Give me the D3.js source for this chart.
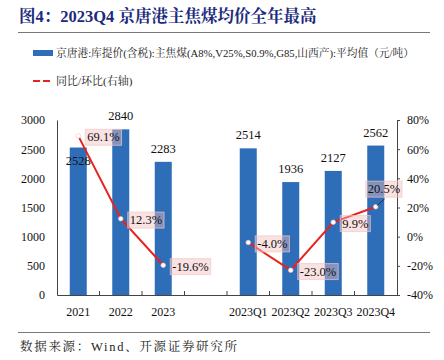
<!DOCTYPE html>
<html><head><meta charset="utf-8">
<script src="https://cdn.jsdelivr.net/npm/d3@7"></script>
<style>body{margin:0;background:#fff}svg{display:block}</style>
</head><body>
<script>
const categories = ["2021","2022","2023","","2023Q1","2023Q2","2023Q3","2023Q4"];
const priceValues = [2528, 2840, 2283, null, 2514, 1936, 2127, 2562];
const changeValues = [69.1, 12.3, -19.6, null, -4.0, -23.0, 9.9, 20.5];
const leftTicks = [0, 500, 1000, 1500, 2000, 2500, 3000];
const rightTicks = [-40, -20, 0, 20, 40, 60, 80];
const titleText = "图4：2023Q4 京唐港主焦煤均价全年最高";
const barLegend = "京唐港:库提价(含税):主焦煤(A8%,V25%,S0.9%,G85,山西产):平均值（元/吨）";
const lineLegend = "同比/环比(右轴)";
const sourceText = "数据来源：Wind、开源证券研究所";

const W = 444, H = 360;
const FONT = "'Liberation Serif','Times New Roman','Noto Serif CJK SC','Noto Sans CJK SC',serif";
const BLUE = "#2E6DB8", RED = "#E8231F";
const svg = d3.select("body").append("svg").attr("width", W).attr("height", H);

const keys = categories.map((c, i) => i);
const x = d3.scaleBand().domain(keys).range([57, 397]).padding(0);
const yL = d3.scaleLinear().domain([0, 3000]).range([295, 120]);
const yR = d3.scaleLinear().domain([-40, 80]).range([295, 120]);

// title
svg.append("text").attr("x", 19).attr("y", 22).text(titleText)
  .attr("font-family", FONT).attr("font-weight", "bold").attr("font-size", 16.5).attr("fill", "#1C2A7C");
svg.append("line").attr("x1", 18).attr("x2", 430).attr("y1", 32.5).attr("y2", 32.5).attr("stroke", "#777").attr("stroke-width", 1.2);

// legend
svg.append("rect").attr("x", 33).attr("y", 50).attr("width", 20).attr("height", 6).attr("fill", BLUE);
svg.append("text").attr("x", 56).attr("y", 57).text(barLegend)
  .attr("font-family", FONT).attr("font-size", 11).attr("fill", "#222")
  .attr("textLength", 358).attr("lengthAdjust", "spacingAndGlyphs");
svg.append("line").attr("x1", 33).attr("x2", 53).attr("y1", 81).attr("y2", 81)
  .attr("stroke", RED).attr("stroke-width", 2).attr("stroke-dasharray", "7,3");
svg.append("text").attr("x", 56).attr("y", 85).text(lineLegend)
  .attr("font-family", FONT).attr("font-size", 11).attr("fill", "#222");

// bars
const bw = x.bandwidth() * 0.4;
const barData = priceValues.map((v, i) => ({v, i})).filter(d => d.v != null);
svg.append("g").selectAll("rect").data(barData).join("rect")
  .attr("x", d => x(d.i) + x.bandwidth() / 2 - bw / 2)
  .attr("width", bw)
  .attr("y", d => yL(d.v))
  .attr("height", d => yL(0) - yL(d.v))
  .attr("fill", BLUE);

// axes
const axL = svg.append("g").attr("transform", "translate(57,0)")
  .call(d3.axisLeft(yL).tickValues(leftTicks).tickSize(0).tickPadding(12).tickFormat(d3.format("d")));
const axR = svg.append("g").attr("transform", "translate(397,0)")
  .call(d3.axisRight(yR).tickValues(rightTicks).tickSize(3).tickPadding(7).tickFormat(d => d + "%"));
const axB = svg.append("g").attr("transform", "translate(0,295)")
  .call(d3.axisBottom(x).tickSize(0).tickPadding(12).tickFormat(i => categories[i]));
[axL, axR, axB].forEach(g => {
  g.selectAll("text").attr("font-family", FONT).attr("font-size", 12).attr("fill", "#111");
  g.selectAll("line,path").attr("stroke", "#444");
});
// category boundary ticks
const bounds = d3.range(1, categories.length).map(i => x(i));
svg.append("g").selectAll("line").data(bounds).join("line")
  .attr("x1", d => d).attr("x2", d => d).attr("y1", 291).attr("y2", 295)
  .attr("stroke", "#444");

// bar value labels
svg.append("g").selectAll("text").data(barData).join("text")
  .attr("x", d => x(d.i) + x.bandwidth() / 2)
  .attr("y", d => d.i === 0 ? yL(d.v) + 17 : yL(d.v) - 9)
  .attr("text-anchor", "middle")
  .attr("font-family", FONT).attr("font-size", 12.5).attr("fill", "#111")
  .text(d => d.v);

// line
const cx = i => x(i) + x.bandwidth() / 2;
const line = d3.line().defined(d => d.v != null).x(d => cx(d.i)).y(d => yR(d.v));
const lineData = changeValues.map((v, i) => ({v, i}));
svg.append("path").datum(lineData).attr("d", line)
  .attr("fill", "none").attr("stroke", RED).attr("stroke-width", 2);
const pts = lineData.filter(d => d.v != null);
svg.append("g").selectAll("circle").data(pts).join("circle")
  .attr("cx", d => cx(d.i)).attr("cy", d => yR(d.v)).attr("r", 2.3)
  .attr("fill", "#fff").attr("stroke", "#f3c0c0").attr("stroke-width", 0.6);

// line labels
const lg = svg.append("g");
pts.forEach(d => {
  const px = cx(d.i), py = yR(d.v);
  const last = d.i === categories.length - 1;
  const tx = last ? px - 8 : px + 9;
  const ty = last ? py - 18 : py + 1;
  if (last) {
    lg.append("line").attr("x1", px + 1).attr("y1", py - 1).attr("x2", px + 9).attr("y2", py - 8)
      .attr("stroke", "#222").attr("stroke-width", 0.8);
  }
  const t = lg.append("text").attr("x", tx).attr("y", ty).attr("dy", "0.35em")
    .attr("font-family", FONT).attr("font-size", 12.5).attr("fill", "#111")
    .text(d.v.toFixed(1) + "%");
  const bb = t.node().getBBox();
  lg.insert("rect", "text").attr("x", bb.x - 2).attr("y", bb.y - 1)
    .attr("width", bb.width + 4).attr("height", bb.height + 2)
    .attr("fill", "rgba(245,190,190,0.45)").attr("stroke", "rgba(240,200,200,0.7)");
});

// footer
svg.append("line").attr("x1", 18).attr("x2", 430).attr("y1", 332.5).attr("y2", 332.5).attr("stroke", "#777").attr("stroke-width", 1.2);
svg.append("text").attr("x", 20).attr("y", 351).text(sourceText)
  .attr("font-family", FONT).attr("font-size", 12.5).attr("fill", "#222")
  .attr("textLength", 217).attr("lengthAdjust", "spacing");
</script>
</body></html>
